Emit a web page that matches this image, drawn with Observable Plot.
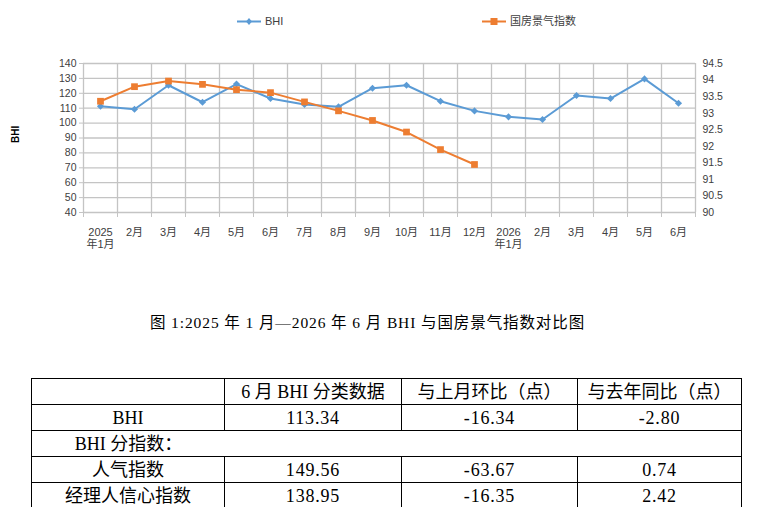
<!DOCTYPE html>
<html><head><meta charset="utf-8">
<script src="https://cdn.jsdelivr.net/npm/d3@7"></script>
<script src="https://cdn.jsdelivr.net/npm/@observablehq/plot@0.6"></script>
<style>
body{margin:0;background:#fff;width:761px;height:507px;position:relative;overflow:hidden;font-family:"Liberation Sans",Arial,sans-serif;}
#legend{position:absolute;left:0;top:0;width:761px;height:40px;}
#chart{position:absolute;left:0;top:40px;}
#caption{position:absolute;left:0;top:310px;width:735px;text-align:center;font-family:"Liberation Serif","Noto Sans CJK SC",serif;font-size:15.5px;letter-spacing:0.9px;color:#000;}
#tbl{position:absolute;left:31px;top:378px;border-collapse:collapse;font-family:"Liberation Serif","Noto Sans CJK SC",serif;font-size:18px;color:#000;}
#tbl td{border:1px solid #000;height:25px;padding:0;text-align:center;white-space:nowrap;line-height:24px;}
#tbl td.num{letter-spacing:0.8px;}
</style></head>
<body>
<div id="legend"></div>
<div id="chart"></div>
<div id="caption"></div>
<table id="tbl"></table>
<script>
const months = ["2025\n年1月","2月","3月","4月","5月","6月","7月","8月","9月","10月","11月","12月","2026\n年1月","2月","3月","4月","5月","6月"];
const bhi = [111.3,109.3,125.4,114.0,126.2,116.5,112.5,110.9,123.4,125.4,114.7,108.2,104.2,102.4,118.5,116.5,129.68,113.34];
const housing = [93.36,93.80,93.97,93.87,93.71,93.62,93.34,93.07,92.78,92.43,91.90,91.45];
const leftTicks = [40,50,60,70,80,90,100,110,120,130,140];
const rightTicks = [90,90.5,91,91.5,92,92.5,93,93.5,94,94.5];
const rightTickLabels = ["90","90.5","91","91.5","92","92.5","93","93.5","94","94.5"];
const seriesNames = ["BHI","国房景气指数"];
const colors = ["#5b9bd5","#ed7d31"];
const captionText = "图 1:2025 年 1 月—2026 年 6 月 BHI 与国房景气指数对比图";
const tableHeader = ["","6 月 BHI 分类数据","与上月环比（点）","与去年同比（点）"];
const tableRows = [
  ["BHI","113.34","-16.34","-2.80"],
  ["BHI 分指数：",null,null,null],
  ["人气指数","149.56","-63.67","0.74"],
  ["经理人信心指数","138.95","-16.35","2.42"]
];

// map right-axis values onto left scale
const [lMin,lMax] = d3.extent(leftTicks);
const [rMin,rMax] = d3.extent(rightTicks);
const toLeft = v => lMin + (v - rMin) / (rMax - rMin) * (lMax - lMin);

const n = months.length;
const bhiData = bhi.map((v,i)=>({x:i+0.5,y:v}));
const houseData = housing.map((v,i)=>({x:i+0.5,y:toLeft(v)}));
const grid = "#c4c4c4";
const tickColor = "#404040";

const plot = Plot.plot({
  width:761, height:215,
  marginTop:23, marginBottom:43, marginLeft:83, marginRight:66,
  x:{domain:[0,n]},
  y:{domain:[lMin,lMax]},
  style:{fontFamily:'"Liberation Sans",Arial,"Noto Sans CJK SC",sans-serif',color:tickColor,background:"#fff"},
  marks:[
    Plot.ruleY(leftTicks,{stroke:grid,strokeWidth:1.3}),
    Plot.ruleX(d3.range(n+1),{stroke:grid,strokeWidth:1.3}),
    Plot.axisY({ticks:leftTicks,tickSize:4,tickPadding:3,fontSize:10.5,stroke:grid,label:null,tickFormat:d=>String(d)}),
    Plot.axisY({anchor:"right",ticks:rightTicks.map(toLeft),tickSize:0,tickPadding:7,fontSize:10.5,label:null,tickFormat:(d,i)=>rightTickLabels[i]}),
    Plot.axisX({ticks:d3.range(n+1),tickSize:5,tickFormat:()=>"",stroke:grid,label:null}),
    Plot.axisX({ticks:months.map((m,i)=>i+0.5),tickSize:0,tickPadding:15,fontSize:11,label:null,lineHeight:1.1,tickFormat:(d)=>months[Math.floor(d)]}),
    Plot.line(bhiData,{x:"x",y:"y",stroke:colors[0],strokeWidth:2}),
    Plot.dot(bhiData,{x:"x",y:"y",symbol:"diamond2",fill:colors[0],r:3.2}),
    Plot.line(houseData,{x:"x",y:"y",stroke:colors[1],strokeWidth:2}),
    Plot.dot(houseData,{x:"x",y:"y",symbol:"square",fill:colors[1],r:3.8}),
    Plot.text(["BHI"],{frameAnchor:"left",dx:-68,dy:5,rotate:-90,fontWeight:"bold",fontSize:10,fill:"#000"})
  ]
});
document.getElementById("chart").appendChild(plot);

// legend
const leg = [{x0:237,name:seriesNames[0],sym:"diamond"},{x0:482,name:seriesNames[1],sym:"square"}];
let svg = '<svg width="761" height="40" xmlns="http://www.w3.org/2000/svg">';
leg.forEach((l,i)=>{
  const c = colors[i], cx = l.x0+12;
  svg += `<line x1="${l.x0}" x2="${l.x0+24}" y1="21.5" y2="21.5" stroke="${c}" stroke-width="2"/>`;
  if(l.sym==="diamond") svg += `<path d="M${cx} ${21.5-3.5}L${cx+3} 21.5L${cx} ${21.5+3.5}L${cx-3} 21.5Z" fill="${c}"/>`;
  else svg += `<rect x="${cx-3.5}" y="18" width="7" height="7" fill="${c}"/>`;
  svg += `<text x="${l.x0+28}" y="21.5" dy="0.35em" font-size="11" fill="#404040" font-family='"Liberation Sans",Arial,"Noto Sans CJK SC",sans-serif'>${l.name}</text>`;
});
svg += '</svg>';
document.getElementById("legend").innerHTML = svg;

document.getElementById("caption").textContent = captionText;

// table
const widths = [193,177,176,164];
let html = "<tr>" + tableHeader.map((h,i)=>`<td style="width:${widths[i]-1}px">${h}</td>`).join("") + "</tr>";
tableRows.forEach(r=>{
  if(r[1]===null){
    html += `<tr><td colspan="4" style="text-align:left"><div style="width:${widths[0]}px;text-align:center">${r[0]}</div></td></tr>`;
  } else {
    html += "<tr>" + r.map((c,j)=>`<td class="${j>0?'num':''}">${c}</td>`).join("") + "</tr>";
  }
});
document.getElementById("tbl").innerHTML = html;
</script>
</body></html>
